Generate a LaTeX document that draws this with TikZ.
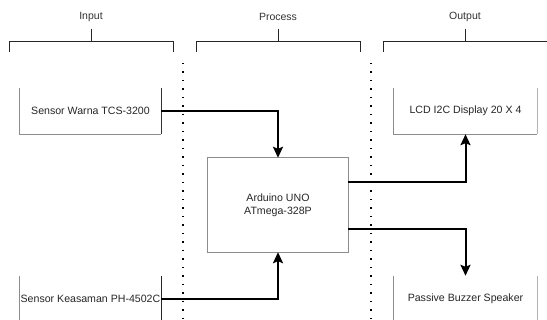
\documentclass[tikz,border=0pt]{standalone}
\usepackage{fontspec}
\setmainfont{Liberation Sans}
\usetikzlibrary{arrows.meta}
\begin{document}
\begin{tikzpicture}[x=1pt,y=-1pt,
  boxnode/.style={inner sep=0pt, text=black!85, font=\fontsize{10.6pt}{12.8pt}\selectfont, align=center},
  boxline/.style={draw=black!45, line width=0.8pt},
  conn/.style={draw=black, line width=2pt, -{Stealth[length=11pt,width=10pt,inset=2pt]}},
  brace/.style={draw=black!85, line width=0.8pt},
  lbl/.style={text=black!80, font=\fontsize{10.5pt}{12pt}\selectfont, inner sep=0pt},
  dots/.style={draw=black, line width=1.4pt, dash pattern=on 1.4pt off 7.1pt}]
\useasboundingbox[fill=white] (0,0) rectangle (547,320);

% section labels and brackets
\node[lbl] (lin) at (91,17) {Input};
\node[lbl] (lpr) at (278,17) {Process};
\node[lbl] (lou) at (465,17) {Output};
\draw[brace] (9,52) -- (9,41) -- (173,41) -- (173,52);
\draw[brace] (91,29) -- (91,41);
\draw[brace] (196,52) -- (196,41) -- (360,41) -- (360,52);
\draw[brace] (278,29) -- (278,41);
\draw[brace] (383,52) -- (383,41) -- (548,41);
\draw[brace] (465,29) -- (465,41);

% dotted separators
\draw[dots] (183,63) -- (183,322);
\draw[dots] (371,63) -- (371,322);

% boxes
\node[boxnode, minimum width=141pt, minimum height=46pt] (warna) at (90.5,111) {Sensor Warna TCS-3200};
\node[boxnode, minimum width=141pt, minimum height=46pt] (keas) at (90.5,299) {Sensor Keasaman PH-4502C};
\node[boxnode, minimum width=140pt, minimum height=94pt] (ard) at (278,205) {Arduino UNO\\ATmega-328P};
\node[boxnode, minimum width=143pt, minimum height=46pt] (lcd) at (465.5,111) {LCD I2C Display 20 X 4};
\node[boxnode, minimum width=143pt, minimum height=46pt] (buz) at (465.5,299) {Passive Buzzer Speaker};

\draw[boxline] (warna.north west) -- (warna.south west) -- (warna.south east);
\draw[draw=black!80, line width=0.8pt] (warna.south east) -- (warna.north east);
\draw[boxline] (keas.north west) -- (keas.south west);
\draw[draw=black!85, line width=0.8pt] (keas.north east) -- (keas.south east);
\draw[boxline] (ard.north west) rectangle (ard.south east);
\draw[boxline] (lcd.north west) -- (lcd.south west) -- (lcd.south east);
\draw[draw=black!30, line width=0.8pt] (lcd.south east) -- (lcd.north east);
\draw[boxline] (buz.north west) -- (buz.south west);
\draw[draw=black!30, line width=0.8pt] (buz.north east) -- (buz.south east);

% connectors
\draw[conn] (warna.east) -| (ard.north);
\draw[conn] (keas.east) -| (ard.south);
\draw[conn] ([yshift=23pt]ard.east) -| (lcd.south);
\draw[conn] ([yshift=-24pt]ard.east) -| (buz.north);
\end{tikzpicture}
\end{document}
